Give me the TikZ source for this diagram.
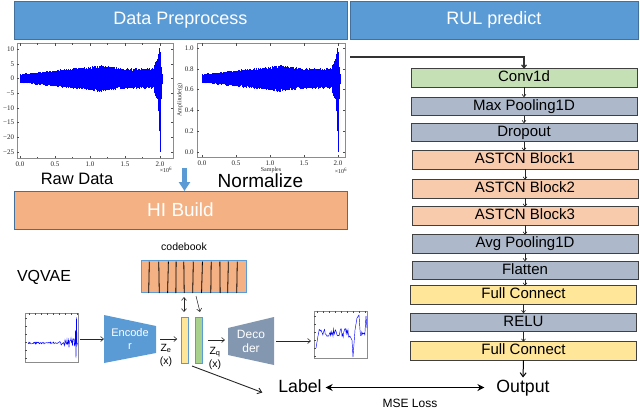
\documentclass[tikz,border=0pt]{standalone}
\usepackage{fontspec}
\setmainfont{Liberation Sans}
\newfontfamily\plotfont{Liberation Serif}
\usetikzlibrary{arrows.meta,calc,backgrounds}
\definecolor{hdrblue}{HTML}{5B9BD5}
\definecolor{hdredge}{HTML}{41719C}
\definecolor{hiorange}{HTML}{F4B183}
\definecolor{convgreen}{HTML}{C5E0B4}
\definecolor{poolgray}{HTML}{ADB9CA}
\definecolor{astcnorange}{HTML}{F8CBAD}
\definecolor{fcyellow}{HTML}{FFE699}
\definecolor{decgray}{HTML}{8497B0}
\definecolor{bargreen}{HTML}{A9D18E}
\definecolor{sigblue}{HTML}{0000FF}
\newcommand\mysignal{%
  \pgfmathsetseed{11}%
  \foreach \i in {0,...,319}{%
    \pgfmathsetmacro\xx{\i*0.006}%
    \pgfmathsetmacro\ee{1.1*(\xx<1.15 ? 1.4+2.4*\xx : (\xx<1.5 ? 4.16-2.7*(\xx-1.15) : 3.2))}%
    \pgfmathsetmacro\ya{\ee*(0.75+0.25*rnd)}%
    \pgfmathsetmacro\yb{-\ee*(0.75+0.25*rnd)}%
    \draw[sigline] (\xx,\yb) -- (\xx,\ya);%
  }%
  \foreach \xx/\ya/\yb in {1.920/4.5/-5.0, 1.926/5.0/-5.5, 1.932/4.2/-6.0, 1.938/5.5/-5.0,
      1.944/4.8/-6.5, 1.950/6.0/-6.0, 1.956/5.2/-7.0, 1.962/6.5/-6.5, 1.968/7.5/-8.0,
      1.974/6.0/-9.5, 1.980/8.5/-11.0, 1.986/7.0/-14.0, 1.992/10.5/-18.0, 1.998/8.0/-25.0,
      2.004/9.0/-22.0, 2.010/6.0/-12.0, 2.016/4.0/-7.0, 2.022/3.0/-4.0, 2.028/1.5/-2.0}{%
    \draw[sigline] (\xx,\yb) -- (\xx,\ya);%
  }%
}
\begin{document}
\begin{tikzpicture}[x=1pt,y=-1pt,
  every node/.style={inner sep=0pt, outer sep=0pt},
  hdr/.style={draw=hdredge, fill=hdrblue, line width=0.6pt, text=white, minimum height=38pt, font=\fontsize{18}{20}\selectfont},
  rulbox/.style={draw=black!75, line width=0.6pt, minimum width=226pt, minimum height=18.5pt, font=\fontsize{15}{17}\selectfont, text height=10.8pt, text depth=3pt},
  sigline/.style={sigblue, line width=0.5pt},
  plotframe/.style={draw=black!45, line width=0.4pt},
  tickline/.style={black!70, line width=0.3pt},
  ticklbl/.style={font=\plotfont\fontsize{7}{8}\selectfont, text=black!85},
  arr/.style={-{Straight Barb[length=3pt,width=5pt]}, line width=0.6pt, black!85},
  dblarr/.style={{Straight Barb[length=3pt,width=5pt]}-{Straight Barb[length=3pt,width=5pt]}, line width=0.6pt, black!85},
  bigtxt/.style={text height=12.5pt, text depth=3.5pt, font=\fontsize{17.7}{20}\selectfont}
]
\useasboundingbox (0,0) rectangle (640,408);
\clip (0,0) rectangle (640,408);

% headers
\node[hdr, minimum width=333pt] (hdp) at (180.5,20) {Data Preprocess};
\node[hdr, minimum width=288pt] (hrul) at (494,20) {RUL predict};

% raw data plot
\begin{scope}[shift={(20pt,-78.5pt)}, x=70pt, y=2.94pt]
  \mysignal
\end{scope}
\node[plotframe, minimum width=156pt, minimum height=115pt] (rawplot) at (95,100.5) {};
\foreach \v/\t [count=\k] in {10/10,5/5,0/0,-5/−5,-10/−10,-15/−15,-20/−20,-25/−25}{
  \pgfmathsetmacro\yy{78.5-2.94*(\v)}
  \node[ticklbl, anchor=east] (ry\k) at (14,\yy) {\t};
  \draw[tickline] (17,\yy) -- (19,\yy) (173,\yy) -- (171,\yy);
}
\foreach \t [count=\k from 0] in {0.0,0.5,1.0,1.5,2.0}{
  \pgfmathsetmacro\xx{20+35*\k}
  \node[ticklbl] (rx\k) at (\xx,164) {\t};
  \draw[tickline] (\xx,158) -- (\xx,155.5) (\xx,43) -- (\xx,45.5);
}
\foreach \k in {0,...,7}{
  \pgfmathsetmacro\xx{37.5+35*\k/2}
  \draw[tickline] (\xx,158) -- (\xx,156.5) (\xx,43) -- (\xx,44.5);
}
\node[ticklbl, font=\plotfont\fontsize{6}{7}\selectfont] (rexp) at (166,170) {×10\textsuperscript{6}};

% normalized plot
\begin{scope}[shift={(202pt,-78.5pt)}, x=68pt, y=2.94pt]
  \mysignal
\end{scope}
\node[plotframe, minimum width=148pt, minimum height=114pt] (nplot) at (271,100) {};
\foreach \t [count=\k from 0] in {0.0,0.2,0.4,0.6,0.8,1.0}{
  \pgfmathsetmacro\yy{152-20.8*\k}
  \node[ticklbl, anchor=east] (ny\k) at (193.5,\yy) {\t};
  \draw[tickline] (197,\yy) -- (199,\yy) (345,\yy) -- (343,\yy);
}
\foreach \t [count=\k from 0] in {0.0,0.5,1.0,1.5,2.0}{
  \pgfmathsetmacro\xx{202+34*\k}
  \node[ticklbl] (nx\k) at (\xx,163) {\t};
  \draw[tickline] (\xx,157) -- (\xx,154.5) (\xx,43) -- (\xx,45.5);
}
\node[ticklbl, font=\plotfont\fontsize{6}{7}\selectfont] (nexp) at (341,171) {×10\textsuperscript{6}};
\node[ticklbl, font=\plotfont\fontsize{6}{7}\selectfont] (nxl) at (271,170) {Samples};
\node[ticklbl, font=\plotfont\fontsize{6}{7}\selectfont, rotate=90] (nyl) at (180,100) {Amplitude(g)};

\node[font=\fontsize{16.5}{18}\selectfont] (rawlbl) at (77,179) {Raw Data};
\node[font=\fontsize{19}{21}\selectfont] (normlbl) at (260.5,180.5) {Normalize};

% HI build
\node[draw=hdredge, fill=hiorange, line width=0.6pt, minimum width=333pt, minimum height=38pt, text=white, font=\fontsize{19}{21}\selectfont] (hi) at (180.5,210) {HI Build};
\draw[hdrblue, line width=5pt, -{Triangle[length=9pt,width=11pt]}] ([xshift=4pt,yshift=23pt]hi.north) -- ([xshift=4pt]hi.north);

% VQVAE
\node[font=\fontsize{16}{18}\selectfont] (vq) at (44,277) {VQVAE};
\node[font=\fontsize{10.5}{12}\selectfont] (cbl) at (184,247) {codebook};
\node[draw=hdrblue, fill=hiorange, line width=0.8pt, minimum width=105pt, minimum height=32pt] (cb) at (193.5,276) {};
\foreach \x/\d in {149/0.6,159/-0.5,168/0.8,176/0.3,184/-0.4,193/0.6,202/0.9,211/0.4,220/-0.3,228/0.7,237/0.5}{
  \draw[black, line width=0.8pt] ({\x+\d/2},261.5) -- ({\x-\d/2},293);
}

% input small plot
\node[plotframe, minimum width=53pt, minimum height=49pt] (inplot) at (51.5,337.5) {};
\draw[sigline, line width=0.45pt] (28,343) \foreach \x in {28.5,29,...,75}{ -- (\x,{343+(1.0+0.32*max(0,\x-58))*rand}) } -- (75.5,330) -- (76,358) -- (76.5,317) -- (77,345) -- (77.5,343);
\foreach \k in {0,...,8}{\draw[tickline] ({29+6*\k},313) -- ++(0,1.5);}
\foreach \k in {0,...,5}{\draw[tickline] (25,{318+8*\k}) -- ++(1.5,0);}

% encoder
\node[font=\fontsize{11}{13}\selectfont, text=white, align=center, minimum width=52pt, minimum height=48pt] (enc) at (130,339) {Encode\\r};
\begin{scope}[on background layer]
  \fill[hdrblue] (enc.north west) -- ($(enc.north east)+(0,11)$) -- ($(enc.south east)+(0,-10)$) -- (enc.south west) -- cycle;
\end{scope}

% latent bars
\node[draw=hdrblue, fill=fcyellow, line width=0.6pt, minimum width=7.5pt, minimum height=46pt] (ze) at (185,340) {};
\node[draw=hdrblue, fill=bargreen, line width=0.6pt, minimum width=7.5pt, minimum height=46pt] (zq) at (199,340) {};
\node[font=\fontsize{10.5}{13}\selectfont, align=center] (zel) at (166,355) {Z\textsubscript{e}\\(x)};
\node[font=\fontsize{10.5}{13}\selectfont, align=center] (zql) at (215,358) {Z\textsubscript{q}\\(x)};

% decoder
\node[font=\fontsize{12}{14}\selectfont, text=white, align=center, minimum width=46pt, minimum height=48pt] (dec) at (251,341) {Deco\\der};
\begin{scope}[on background layer]
  \fill[decgray] ($(dec.north west)+(0,11)$) -- (dec.north east) -- (dec.south east) -- ($(dec.south west)+(0,-10)$) -- cycle;
\end{scope}

% output small plot
\node[plotframe, minimum width=53pt, minimum height=47pt] (outplot) at (340.5,334.5) {};
\draw[sigline, line width=0.45pt] (316,348) -- (318,336) \foreach \x in {318.6,319.2,...,350}{ -- (\x,{333+4.5*rand}) } -- (352,340) -- (353,357) -- (355,330) -- (357,318) -- (359,315) -- (360,330) \foreach \x in {360.6,361.2,...,365}{ -- (\x,{334+4*rand}) } -- (366,316) -- (367,328);
\foreach \k in {0,...,8}{\draw[tickline] ({317+6*\k},311) -- ++(0,1.5);}
\foreach \k in {0,...,5}{\draw[tickline] (314,{316+8*\k}) -- ++(1.5,0);}

% VQVAE arrows
\draw[arr] ([xshift=2pt]inplot.east |- enc.west) -- (enc.west);
\draw[arr, shorten <=4pt, shorten >=4pt] (enc.east) -- (enc.east -| ze.west);
\draw[dblarr] ($(ze.north |- cb.south)+(-1,5)$) -- ($(ze.north)+(-1,-5)$);
\draw[arr] ($(zq.north |- cb.south)+(-3,4)$) -- ($(zq.north)+(1,-5)$);
\draw[arr, shorten <=5pt, shorten >=3pt] (zq.east) -- (zq.east -| dec.west);
\draw[arr, shorten <=2pt, shorten >=3pt] (dec.east) -- (dec.east -| outplot.west);

% RUL network
\node[rulbox, fill=convgreen] (conv) at (524,78) {Conv1d};
\node[rulbox, fill=poolgray] (mpool) at (524,106.5) {Max Pooling1D};
\node[rulbox, fill=poolgray] (drop) at (524,132.5) {Dropout};
\node[rulbox, fill=astcnorange] (ast1) at (525,160) {ASTCN Block1};
\node[rulbox, fill=astcnorange] (ast2) at (525,189) {ASTCN Block2};
\node[rulbox, fill=astcnorange] (ast3) at (525,216) {ASTCN Block3};
\node[rulbox, fill=poolgray] (apool) at (525,244) {Avg Pooling1D};
\node[rulbox, fill=poolgray] (flat) at (525,270.5) {Flatten};
\node[rulbox, fill=fcyellow] (fc1) at (523.5,295) {Full Connect};
\node[rulbox, fill=poolgray] (relu) at (523.5,322.5) {RELU};
\node[rulbox, fill=fcyellow] (fc2) at (523.5,351) {Full Connect};
\foreach \a/\b in {conv/mpool, mpool/drop, drop/ast1, ast1/ast2, ast2/ast3, ast3/apool, apool/flat, flat/fc1, fc1/relu, relu/fc2}{
  \draw[arr, -{Straight Barb[length=2.5pt,width=4pt]}] (\a.south) -- (\a.south |- \b.north);
}
\coordinate (rulsrc) at (350,57);
\draw[line width=1.2pt, black!80, -{Straight Barb[length=3pt,width=5pt]}] (rulsrc) -| (conv.north);

% outputs
\node[bigtxt] (out) at (523,387.5) {Output};
\node[bigtxt] (lbl) at (300,387.5) {Label};
\draw[line width=1pt, black, -{Straight Barb[length=4pt,width=6pt]}] (fc2.south) -- ([yshift=2pt]out.north);
\draw[line width=1.6pt, black, {Stealth[length=7pt,width=7pt]}-{Stealth[length=7pt,width=7pt]}, shorten <=4pt, shorten >=12pt] (lbl.east) -- (out.west);
\draw[line width=0.9pt, black!85, -{Straight Barb[length=4pt,width=6pt]}] ($(ze.south east)!0.5!(zq.south west)+(0,3)$) -- ($(lbl.west)+(-16,5)$);
\node[font=\fontsize{12}{14}\selectfont, anchor=base] (mse) at (410,407) {MSE Loss};
\end{tikzpicture}
\end{document}
